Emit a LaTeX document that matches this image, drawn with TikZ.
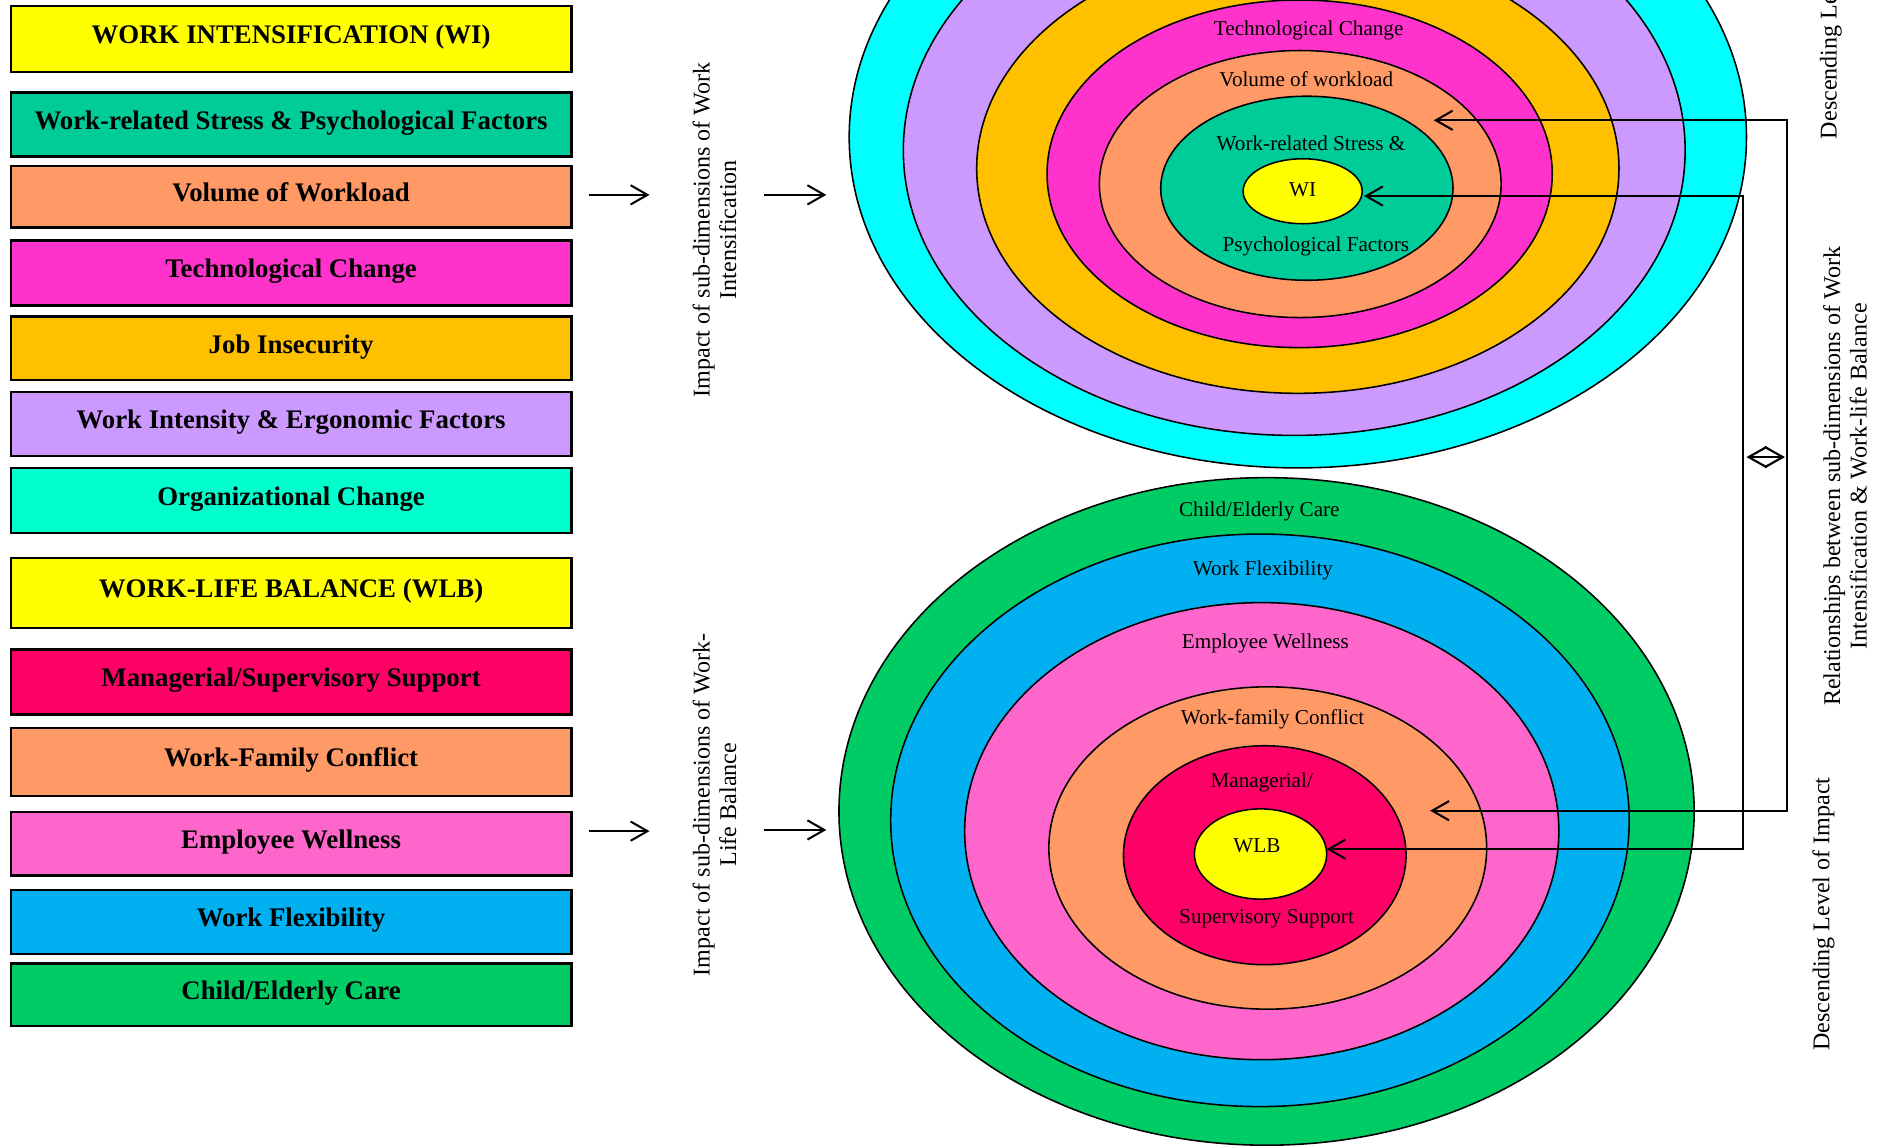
\documentclass[tikz,border=0pt]{standalone}
\usepackage{fontspec}
\setmainfont{Liberation Serif}
\usetikzlibrary{shapes.geometric,arrows.meta}
\definecolor{cWI}{HTML}{FFFF00}
\definecolor{cStress}{HTML}{00CC99}
\definecolor{cVol}{HTML}{FF9966}
\definecolor{cTech}{HTML}{FF33CC}
\definecolor{cJob}{HTML}{FFC000}
\definecolor{cInt}{HTML}{CC99FF}
\definecolor{cOrg}{HTML}{00FFCC}
\definecolor{cCyan}{HTML}{00FFFF}
\definecolor{cMan}{HTML}{FF0066}
\definecolor{cWF}{HTML}{FF9966}
\definecolor{cEmp}{HTML}{FF66CC}
\definecolor{cFlex}{HTML}{00B0F0}
\definecolor{cChild}{HTML}{00CC66}
\begin{document}
\begin{tikzpicture}[x=1pt,y=-1pt,
  box/.style={draw=black, line width=2pt, minimum width=466pt, inner sep=0pt,
    text height=14pt, text depth=6pt, font=\fontsize{22.3}{25}\selectfont\bfseries},
  ring/.style={ellipse, draw=black, line width=1.3pt, inner sep=0pt, outer sep=0pt},
  rlab/.style={inner sep=0pt, text height=12pt, text depth=3pt, font=\fontsize{17.6}{20}\selectfont},
  vlab/.style={rotate=90, align=center, inner sep=0pt, font=\fontsize{20}{22}\selectfont},
  conn/.style={line width=1.7pt, draw=black},
  barb/.style={-{Straight Barb[length=14pt,width=16pt]}},
  barbs/.style={{Straight Barb[length=14pt,width=16pt]}-{Straight Barb[length=14pt,width=16pt]}}
]
\useasboundingbox (0,0) rectangle (1568,954);
\clip (0,0) rectangle (1568,954);

% left boxes
\node[box, fill=cWI, minimum height=55pt] (bWI) at (242,32.5) {WORK INTENSIFICATION (WI)};
\node[box, fill=cStress, minimum height=53pt] (bStress) at (242,103.5) {Work-related Stress \& Psychological Factors};
\node[box, fill=cVol, minimum height=51pt] (bVol) at (242,163.5) {Volume of Workload};
\node[box, fill=cTech, minimum height=54pt] (bTech) at (242,227) {Technological Change};
\node[box, fill=cJob, minimum height=53pt] (bJob) at (242,289.5) {Job Insecurity};
\node[box, fill=cInt, minimum height=53pt] (bInt) at (242,352.5) {Work Intensity \& Ergonomic Factors};
\node[box, fill=cOrg, minimum height=54pt] (bOrg) at (242,416) {Organizational Change};
\node[box, fill=cWI, minimum height=58pt] (bWLB) at (242,493) {WORK-LIFE BALANCE (WLB)};
\node[box, fill=cMan, minimum height=54pt] (bMan) at (242,567) {Managerial/Supervisory Support};
\node[box, fill=cWF, minimum height=57pt] (bWF) at (242,633.5) {Work-Family Conflict};
\node[box, fill=cEmp, minimum height=53pt] (bEmp) at (242,701.5) {Employee Wellness};
\node[box, fill=cFlex, minimum height=53pt] (bFlex) at (242,766.5) {Work Flexibility};
\node[box, fill=cChild, minimum height=52pt] (bChild) at (242,827) {Child/Elderly Care};

% WI rings
\node[ring, fill=cCyan, minimum width=746pt, minimum height=550pt] (wi6) at (1079,114) {};
\node[ring, fill=cInt, minimum width=650pt, minimum height=474pt] (wi5) at (1076,125) {};
\node[ring, fill=cJob, minimum width=534pt, minimum height=374pt] (wi4) at (1079,140) {};
\node[ring, fill=cTech, minimum width=420pt, minimum height=289pt] (wi3) at (1080.5,144.5) {};
\node[ring, fill=cVol, minimum width=334pt, minimum height=222pt] (wi2) at (1081,153) {};
\node[ring, fill=cStress, minimum width=243pt, minimum height=153pt] (wi1) at (1086.5,156.5) {};
\node[ring, fill=cWI, minimum width=99pt, minimum height=54pt] (wi0) at (1083,159) {};
\node[rlab] (lTech) at (1088,25) {Technological Change};
\node[rlab] (lVol) at (1086,67) {Volume of workload};
\node[rlab] (lStress) at (1090,121) {Work-related Stress \&};
\node[rlab] (lWI) at (1083,159) {WI};
\node[rlab] (lPsy) at (1094,205) {Psychological Factors};

% WLB rings
\node[ring, fill=cChild, minimum width=711pt, minimum height=555pt] (wl5) at (1053,674.6) {};
\node[ring, fill=cFlex, minimum width=614pt, minimum height=476pt] (wl4) at (1047.5,682) {};
\node[ring, fill=cEmp, minimum width=494pt, minimum height=380pt] (wl3) at (1049,691) {};
\node[ring, fill=cWF, minimum width=364pt, minimum height=268pt] (wl2) at (1054,705) {};
\node[ring, fill=cMan, minimum width=235pt, minimum height=182pt] (wl1) at (1051.5,711) {};
\node[ring, fill=cWI, minimum width=110pt, minimum height=75pt] (wl0) at (1048,710) {};
\node[rlab] (lChild) at (1047,425) {Child/Elderly Care};
\node[rlab] (lFlex) at (1050,474) {Work Flexibility};
\node[rlab] (lEmp) at (1052,535) {Employee Wellness};
\node[rlab] (lWFC) at (1058,598) {Work-family Conflict};
\node[rlab] (lMan) at (1049,650) {Managerial/};
\node[rlab] (lWLB) at (1045,704) {WLB};
\node[rlab] (lSup) at (1053,763) {Supervisory Support};

% rotated labels
\node[vlab] (impWI) at (594,191) {Impact of sub-dimensions of Work\\Intensification};
\node[vlab] (impWLB) at (594,669) {Impact of sub-dimensions of Work-\\Life Balance};
\node[vlab] (rel) at (1534,396) {Relationships between sub-dimensions of Work\\Intensification \& Work-life Balance};
\node[vlab] (desc1) at (1522,2) {Descending Level of Impact};
\node[vlab] (desc2) at (1516,760) {Descending Level of Impact};

% left arrows
\coordinate (p1) at (490,162); \coordinate (q1) at (540,162);
\coordinate (p2) at (635,162); \coordinate (q2) at (687,162);
\coordinate (p3) at (490,691); \coordinate (q3) at (540,691);
\coordinate (p4) at (635,690); \coordinate (q4) at (687,690);
\draw[conn, barb] (p1) -- (q1);
\draw[conn, barb] (p2) -- (q2);
\draw[conn, barb] (p3) -- (q3);
\draw[conn, barb] (p4) -- (q4);

% right connectors
\coordinate (tVol) at (1192,100); \coordinate (b1) at (1486,100);
\coordinate (b2) at (1486,674); \coordinate (tWF) at (1189,674);
\coordinate (tWI) at (1134,163); \coordinate (a1) at (1449,163);
\coordinate (a2) at (1449,706); \coordinate (tWLB) at (1103,706);
\draw[conn, barbs] (tVol) -- (b1) -- (b2) -- (tWF);
\draw[conn, barbs] (tWI) -- (a1) -- (a2) -- (tWLB);
\coordinate (dL) at (1452,380); \coordinate (dR) at (1484,380);
\draw[line width=1.8pt, {Straight Barb[length=15pt,width=17pt]}-{Straight Barb[length=15pt,width=17pt]}] (dL) -- (dR);
\end{tikzpicture}
\end{document}
